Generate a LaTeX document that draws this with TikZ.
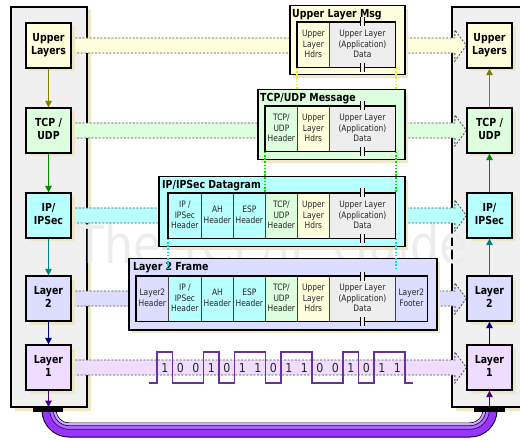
\documentclass[tikz,border=0pt]{standalone}
\usepackage{fontspec}
\setmainfont{DejaVu Sans}
\usepackage{graphicx}
\usetikzlibrary{arrows.meta,shadows}
\pgfdeclarelayer{bg}
\pgfdeclarelayer{mid}
\pgfsetlayers{bg,mid,main}
\definecolor{cUp}{HTML}{FFFFDD}
\definecolor{cTcp}{HTML}{DDFFDD}
\definecolor{cIp}{HTML}{B8FFFF}
\definecolor{cL2}{HTML}{DDDDFF}
\definecolor{cL1}{HTML}{EEDDFF}
\definecolor{cData}{HTML}{EEEEEE}
\definecolor{cPanel}{HTML}{F0F0F0}
\definecolor{cShadow}{HTML}{ECE8C8}
\definecolor{cWave}{HTML}{663399}
\definecolor{aUp}{HTML}{808000}
\definecolor{aTcp}{HTML}{008800}
\definecolor{aIp}{HTML}{008080}
\definecolor{aL2}{HTML}{000080}
\definecolor{aL1}{HTML}{4B0082}
\definecolor{cCable}{HTML}{9933FF}
\definecolor{cCableM}{HTML}{B070FF}
\definecolor{cCableL}{HTML}{D4AAFF}
\definecolor{cCableD}{HTML}{330066}
\definecolor{cYel}{HTML}{EEEE00}
\definecolor{cGrn}{HTML}{00E000}
\definecolor{cCyn}{HTML}{00E0E0}
\newcommand\lblfont{\fontsize{9.4}{10.4}\selectfont\bfseries}
\newcommand\cellfont{\fontsize{7.5}{9.1}\selectfont}
\newcommand\vs[1]{\scalebox{1}[1.18]{\begin{tabular}{@{}c@{}}#1\end{tabular}}}
\newcommand\band[3]{%
  \fill[#3] ([yshift=7.5pt]#1.east) -- ([xshift=-11.5pt,yshift=7.5pt]#2.west) -- ([xshift=-11.5pt,yshift=15.5pt]#2.west) -- (#2.west) -- ([xshift=-11.5pt,yshift=-15.5pt]#2.west) -- ([xshift=-11.5pt,yshift=-7.5pt]#2.west) -- ([yshift=-7.5pt]#1.east) -- cycle;
  \draw[bandline] ([yshift=7.5pt]#1.east) -- ([xshift=-11.5pt,yshift=7.5pt]#2.west) -- ([xshift=-11.5pt,yshift=15.5pt]#2.west) -- (#2.west) -- ([xshift=-11.5pt,yshift=-15.5pt]#2.west) -- ([xshift=-11.5pt,yshift=-7.5pt]#2.west) -- ([yshift=-7.5pt]#1.east);}
\newcommand\brk[1]{%
  \fill[cData] ([xshift=-1.7pt,yshift=4.5pt]#1) rectangle ([xshift=1.7pt,yshift=-4.5pt]#1);
  \draw[line width=1pt] ([xshift=-1.7pt,yshift=4.5pt]#1) -- ([xshift=-1.7pt,yshift=-4.5pt]#1) ([xshift=1.7pt,yshift=4.5pt]#1) -- ([xshift=1.7pt,yshift=-4.5pt]#1);}
\newcommand\cab[3]{\draw[#3, rounded corners=#2pt] ({49+#1},409) -- ({49+#1},{430-#1}) -- ({490-#1},{430-#1}) -- ({490-#1},409);}
\tikzset{
  sh/.style={drop shadow={shadow xshift=3.5pt,shadow yshift=-3.5pt,fill=cShadow,opacity=1}},
  lnode/.style={draw, line width=1.3pt, minimum width=45pt, minimum height=45pt, inner sep=0pt, font=\lblfont, sh},
  outerbox/.style={draw, line width=1.5pt, inner sep=0pt, anchor=north west, sh},
  cell/.style={draw=black!75, line width=0.8pt, minimum height=45pt, inner sep=0pt, anchor=north west, font=\cellfont, text=black!85},
  title/.style={anchor=base west, inner sep=0pt, font=\lblfont},
  bandline/.style={black!70, line width=0.8pt, dash pattern=on 2pt off 1.6pt},
  conn/.style={line width=1.3pt, -{Triangle[length=6.5pt,width=6.5pt]}},
  dots/.style={line width=1.6pt, dash pattern=on 1.6pt off 1.6pt},
  bit/.style={anchor=base, inner sep=0pt, font=\fontsize{11}{11}\selectfont, text=black!85},
  wave/.style={cWave, line width=1.3pt},
}
\begin{document}
\begin{tikzpicture}[x=1pt,y=-1pt]
\useasboundingbox (0,0) rectangle (520,441);
\begin{pgfonlayer}{bg}
  \fill[white] (0,0) rectangle (520,441);
  \draw[line width=1.3pt, fill=cPanel, sh] (11,7) rectangle (87,407);
  \draw[line width=1.3pt, fill=cPanel, sh] (452,7) rectangle (540,407);
  \node[text=black!7, font=\fontsize{46}{46}\selectfont] (wm) at (272,246) {\scalebox{1}[1.15]{The TCP/IP Guide}};
\end{pgfonlayer}

% message boxes
\node[outerbox, fill=cUp, minimum width=115pt, minimum height=69pt] (mU) at (289,5) {};
\node[outerbox, fill=cTcp, minimum width=147pt, minimum height=70pt] (mT) at (257,89) {};
\node[outerbox, fill=cIp, minimum width=246pt, minimum height=70pt] (mI) at (158,176) {};
\node[outerbox, fill=cL2, minimum width=308pt, minimum height=71pt] (mL) at (128,258) {};
\node[title] (tU) at (292,17.5) {\scalebox{1}[1.18]{Upper Layer Msg}};
\node[title] (tT) at (260,101.5) {\scalebox{1}[1.18]{TCP/UDP Message}};
\node[title] (tI) at (162,188.5) {\scalebox{1}[1.18]{IP/IPSec Datagram}};
\node[title] (tL) at (133,270.5) {\scalebox{1}[1.18]{Layer 2 Frame}};

% Upper Layer Msg cells
\node[cell, fill=cUp, minimum width=32pt] (uh) at (297,22) {\vs{Upper\\Layer\\Hdrs}};
\node[cell, fill=cData, minimum width=66pt] (ud) at (329,22) {\vs{Upper Layer\\(Application)\\Data}};
\draw[line width=1.3pt] (uh.north west) rectangle (ud.south east);
\brk{ud.north} \brk{ud.south}

% TCP/UDP Message cells
\node[cell, fill=cTcp, minimum width=32pt] (th) at (265,106) {\vs{TCP/\\UDP\\Header}};
\node[cell, fill=cUp, minimum width=32pt] (tu) at (297,106) {\vs{Upper\\Layer\\Hdrs}};
\node[cell, fill=cData, minimum width=66pt] (td) at (329,106) {\vs{Upper Layer\\(Application)\\Data}};
\draw[line width=1.3pt] (th.north west) rectangle (td.south east);
\brk{td.north} \brk{td.south}

% IP/IPSec Datagram cells
\node[cell, fill=cIp, minimum width=33pt] (iip) at (168,193) {\vs{IP /\\IPSec\\Header}};
\node[cell, fill=cIp, minimum width=32pt] (iah) at (201,193) {\vs{AH\\Header}};
\node[cell, fill=cIp, minimum width=32pt] (iesp) at (233,193) {\vs{ESP\\Header}};
\node[cell, fill=cTcp, minimum width=32pt] (itcp) at (265,193) {\vs{TCP/\\UDP\\Header}};
\node[cell, fill=cUp, minimum width=32pt] (iuh) at (297,193) {\vs{Upper\\Layer\\Hdrs}};
\node[cell, fill=cData, minimum width=66pt] (idata) at (329,193) {\vs{Upper Layer\\(Application)\\Data}};
\draw[line width=1.3pt] (iip.north west) rectangle (idata.south east);
\brk{idata.north} \brk{idata.south}

% Layer 2 Frame cells
\node[cell, fill=cL2, minimum width=32pt] (lh) at (136,276) {\vs{Layer2\\Header}};
\node[cell, fill=cIp, minimum width=33pt] (lip) at (168,276) {\vs{IP /\\IPSec\\Header}};
\node[cell, fill=cIp, minimum width=32pt] (lah) at (201,276) {\vs{AH\\Header}};
\node[cell, fill=cIp, minimum width=32pt] (lesp) at (233,276) {\vs{ESP\\Header}};
\node[cell, fill=cTcp, minimum width=32pt] (ltcp) at (265,276) {\vs{TCP/\\UDP\\Header}};
\node[cell, fill=cUp, minimum width=32pt] (luh) at (297,276) {\vs{Upper\\Layer\\Hdrs}};
\node[cell, fill=cData, minimum width=66pt] (ldata) at (329,276) {\vs{Upper Layer\\(Application)\\Data}};
\node[cell, fill=cL2, minimum width=32pt] (lf) at (395,276) {\vs{Layer2\\Footer}};
\draw[line width=1.3pt] (lh.north west) rectangle (lf.south east);
\brk{ldata.north} \brk{ldata.south}

% dotted guide lines
\coordinate (c1) at (iip.south west |- mL.north);
\coordinate (c2) at (idata.south east |- mL.north);
\draw[dots, cYel] (uh.south west) -- (uh.south west |- mT.north);
\draw[dots, cYel] (ud.south east) -- (ud.south east |- mT.north);
\draw[dots, cGrn] (th.south west) -- (itcp.north west);
\draw[dots, cGrn] (td.south east) -- (idata.north east);
\draw[dots, cCyn] (iip.south west) -- ([yshift=-10pt]c1);
\draw[dots, cCyn] (idata.south east) -- ([yshift=-10pt]c2);

% layer nodes
\node[lnode, fill=cUp] (lu) at (48.5,45.5) {\vs{Upper\\Layers}};
\node[lnode, fill=cTcp] (lt) at (48.5,130.5) {\vs{TCP /\\UDP}};
\node[lnode, fill=cIp] (li) at (48.5,215.5) {\vs{IP/\\IPSec}};
\node[lnode, fill=cL2] (l2) at (48.5,298.5) {\vs{Layer\\2}};
\node[lnode, fill=cL1] (l1) at (48.5,367.5) {\vs{Layer\\1}};
\node[lnode, fill=cUp] (ru) at (489.5,45.5) {\vs{Upper\\Layers}};
\node[lnode, fill=cTcp] (rt) at (489.5,130.5) {\vs{TCP /\\UDP}};
\node[lnode, fill=cIp] (ri) at (489.5,215.5) {\vs{IP/\\IPSec}};
\node[lnode, fill=cL2] (r2) at (489.5,298.5) {\vs{Layer\\2}};
\node[lnode, fill=cL1] (r1) at (489.5,367.5) {\vs{Layer\\1}};

% bands
\begin{pgfonlayer}{mid}
  \band{lu}{ru}{cUp}
  \band{lt}{rt}{cTcp}
  \band{li}{ri}{cIp}
  \band{l2}{r2}{cL2}
  \band{l1}{r1}{cL1}
\end{pgfonlayer}

% cable
\cab{0}{20}{black, line width=15pt}
\cab{0}{20}{cCable, line width=13pt}
\cab{2.5}{17.5}{cCableM, line width=3.6pt}
\cab{5.55}{14.45}{cCableL, line width=2.5pt}
\cab{0.7}{19.3}{cCableD, line width=0.7pt}
\cab{4.3}{15.7}{cCableD, line width=0.7pt}
\fill (33,407) rectangle (63,411.5);
\fill (474,407) rectangle (505,411.5);
\coordinate (barL) at (48.5,407);
\coordinate (barR) at (489.5,407);

% vertical arrows
\draw[conn, aUp] (lu) -- (lt);
\draw[conn, aTcp] (lt) -- (li);
\draw[conn, aIp] (li) -- (l2);
\draw[conn, aL2] (l2) -- (l1);
\draw[conn, aL1] (l1) -- (barL);
\draw[conn, aL1] (barR) -- (r1);
\draw[conn, aL2] (r1) -- (r2);
\draw[conn, aIp] (r2) -- (ri);
\draw[conn, aTcp] (ri) -- (rt);
\draw[conn, aUp] (rt) -- (ru);

% waveform and bits
\draw[wave] (149,383) -- (157,383) -- (157,352) -- (172.5,352) -- (172.5,383) -- (203.5,383) -- (203.5,352) -- (219,352) -- (219,383) -- (234.5,383) -- (234.5,352) -- (265.5,352) -- (265.5,383) -- (281,383) -- (281,352) -- (312,352) -- (312,383) -- (343,383) -- (343,352) -- (358.5,352) -- (358.5,383) -- (374,383) -- (374,352) -- (405,352) -- (405,383) -- (413,383);
\foreach \b [count=\i from 0] in {1,0,0,1,0,1,1,0,1,1,0,0,1,0,1,1}
  \node[bit] (bit\i) at ({164.75+15.5*\i},372) {\scalebox{1}[1.12]{\b}};
\end{tikzpicture}
\end{document}
